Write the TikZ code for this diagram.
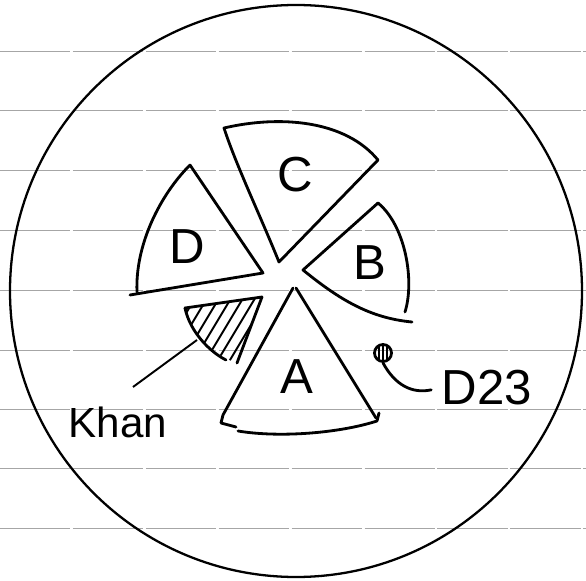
\documentclass[tikz,border=0pt]{standalone}
\usepackage{fontspec}
\setmainfont{Liberation Sans}
\begin{document}
\begin{tikzpicture}
  [x=0.02cm,y=-0.02cm,
   ruling/.style={gray!70,line width=0.5pt,dash pattern=on 40pt off 1.5pt},
   pen/.style={line width=1.6pt,line join=round,line cap=round},
   letter/.style={font=\fontsize{28}{30}\selectfont,inner sep=1pt},
   hatch/.style={line width=1.1pt}]
  \useasboundingbox (0,0) rectangle (586,581);
  \fill[white] (0,0) rectangle (586,581);

  % ruled paper
  \foreach \y in {51,110,170,230,290,350,409,468,528}
    \draw[ruling] (0,\y) -- (586,\y);

  % the dish
  \draw[line width=1.3pt] (296,291) circle (286);

  % pieces
  \draw[pen] (378,160) -- (279,262) .. controls (260,215) and (236,165) .. (224,128)
    .. controls (280,115) and (345,120) .. (378,160);
  \draw[pen] (190,165) -- (263,273) -- (130,295);
  \draw[pen] (190,165) .. controls (160,195) and (135,245) .. (137,292);
  \draw[pen] (378,203) -- (303,270) .. controls (340,300) and (370,318) .. (412,322);
  \draw[pen] (378,203) .. controls (405,225) and (415,280) .. (405,312);
  \draw[pen] (293,288) -- (223,415) -- (221,423) -- (236,427);
  \draw[pen] (296,288) -- (376,418);
  \draw[pen] (238,431) .. controls (280,438) and (340,433) .. (377,421) -- (379,413);

  \node[letter] (c) at (295,175) {C};
  \node[letter] (d) at (187,247) {D};
  \node[letter] (b) at (370,263) {B};
  \node[letter] (a) at (297,377) {A};

  % taken piece
  \begin{scope}
    \clip (185,308) -- (262,297) -- (237,363) .. controls (212,355) and (190,332) .. (185,308);
    \foreach \i in {0,...,13}
      \draw[hatch] (110+\i*12,400) -- (182+\i*12,280);
  \end{scope}
  \draw[pen] (185,308) -- (262,297) -- (237,363);
  \draw[pen] (185,308) .. controls (190,332) and (210,352) .. (226,360);

  \coordinate (khantip) at (197,340);
  \coordinate (khanend) at (133,387);
  \node[letter,font=\fontsize{24}{26}\selectfont] (khan) at (118,422) {Khan};
  \draw[line width=1.1pt] (khantip) -- (khanend);

  % the dot
  \node[circle,draw,line width=1.6pt,minimum size=0.34cm,inner sep=0pt] (dot) at (383,353) {};
  \draw[line width=1.1pt] (379,347) -- (379,359) (383,345) -- (383,361) (387,347) -- (387,359);
  \node[letter] (d23) at (487,388) {D23};
  \draw[pen,shorten >=5pt] (dot.south) .. controls (395,385) and (412,394) .. (d23.west);
\end{tikzpicture}
\end{document}
